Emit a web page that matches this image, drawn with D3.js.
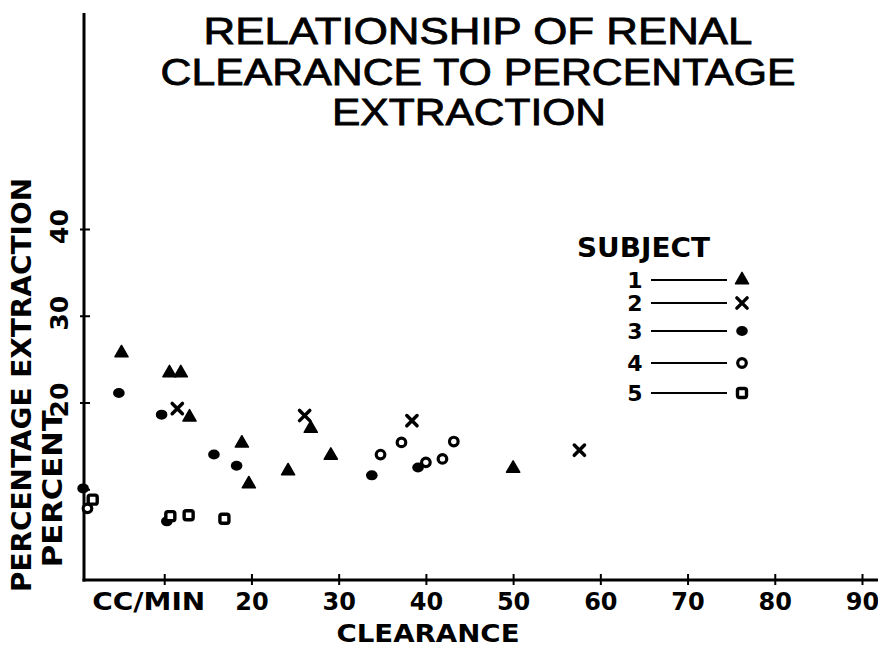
<!DOCTYPE html>
<html lang="en">
<head>
<meta charset="utf-8">
<title>Renal clearance</title>
<style>
  body { margin: 0; background: #fff; }
  svg { display: block; }
  .lbl { font-family: "DejaVu Sans", sans-serif; font-weight: bold; fill: #000; }
  .title { font-family: "Liberation Sans", sans-serif; font-size: 37px; fill: #000; stroke: #000; stroke-width: 0.8px; }
</style>
</head>
<body>
<div id="chart"></div>
<script src="https://cdn.jsdelivr.net/npm/d3@7"></script>
<script>
// values: [clearance cc/min, percentage extraction]
var subjects = ["1", "2", "3", "4", "5"];
var subject1 = [[5.1, 25.7], [10.6, 23.4], [11.9, 23.4], [12.9, 18.3], [18.9, 15.3], [19.7, 10.6],
                [24.2, 12.1], [26.8, 17.0], [29.1, 13.9], [50.0, 12.4]];
var subject2 = [[11.5, 19.3], [26.1, 18.5], [38.4, 17.9], [57.6, 14.5]];
var subject3 = [[0.7, 10.1], [4.8, 21.1], [9.7, 18.6], [10.3, 6.3], [15.7, 14.0], [18.3, 12.7],
                [33.8, 11.6], [39.1, 12.5]];
var subject4 = [[1.2, 7.8], [34.8, 14.0], [37.2, 15.4], [40.0, 13.1], [41.9, 13.5], [43.2, 15.5]];
var subject5 = [[1.8, 8.8], [10.7, 6.9], [12.8, 7.0], [16.9, 6.6]];
var xTicks = [10, 20, 30, 40, 50, 60, 70, 80, 90];
var yTicks = [10, 20, 30, 40];
var titleLines = ["RELATIONSHIP OF RENAL", "CLEARANCE TO PERCENTAGE", "EXTRACTION"];

var width = 878, height = 648;
var svg = d3.select("#chart").append("svg")
    .attr("width", width).attr("height", height);
svg.append("rect").attr("width", width).attr("height", height).attr("fill", "#fff");

var x = d3.scaleLinear().domain([0, 90]).range([77, 862]);
var y = d3.scaleLinear().domain([0, 40]).range([576, 229]);
var axisX = 84, axisY = 580;

// title
var titleGeom = [{cx: 478, base: 44, len: 549}, {cx: 478, base: 85, len: 635}, {cx: 469, base: 125, len: 274}];
svg.selectAll(".title").data(titleLines).enter().append("text")
    .attr("class", "title")
    .attr("x", function(d, i) { return titleGeom[i].cx; })
    .attr("y", function(d, i) { return titleGeom[i].base; })
    .attr("text-anchor", "middle")
    .attr("textLength", function(d, i) { return titleGeom[i].len; })
    .attr("lengthAdjust", "spacingAndGlyphs")
    .text(function(d) { return d; });

// axes lines
svg.append("line").attr("x1", axisX).attr("x2", axisX).attr("y1", 13).attr("y2", axisY + 1.5)
    .attr("stroke", "#000").attr("stroke-width", 3);
svg.append("line").attr("x1", axisX - 1.5).attr("x2", width).attr("y1", axisY).attr("y2", axisY)
    .attr("stroke", "#000").attr("stroke-width", 3);

// x axis ticks
var gx = svg.append("g").attr("transform", "translate(0," + axisY + ")")
    .call(d3.axisBottom(x).tickValues(xTicks).tickSize(5)
      .tickFormat(function(d) { return d === 10 ? "CC/MIN" : d; }));
gx.select(".domain").remove();
gx.selectAll(".tick line").attr("y1", -6).attr("stroke-width", 2);
gx.selectAll(".tick text")
    .attr("class", "lbl").attr("font-size", 24).attr("dy", null).attr("y", 30)
    .attr("x", function(d) { return d === 10 ? -16 : 0; })
    .attr("textLength", function(d) { return d === 10 ? 113 : null; })
    .attr("lengthAdjust", "spacingAndGlyphs");

// y axis ticks
var gy = svg.append("g").attr("transform", "translate(" + axisX + ",0)")
    .call(d3.axisLeft(y).tickValues(yTicks).tickSize(4)
      .tickFormat(function(d) { return d === 10 ? "PERCENT" : d; }));
gy.select(".domain").remove();
gy.selectAll(".tick line").attr("x2", 6).attr("x1", -4).attr("stroke-width", 2);
gy.selectAll(".tick text")
    .attr("class", "lbl").attr("x", null).attr("dy", null)
    .attr("text-anchor", "middle")
    .attr("font-size", function(d) { return d === 10 ? 27 : 25; })
    .attr("transform", function(d) { return d === 10 ? "translate(-22,-1) rotate(-90)" : "translate(-16,-3) rotate(-90)"; })
    .attr("textLength", function(d) { return d === 10 ? 157 : null; })
    .attr("lengthAdjust", "spacingAndGlyphs");

// axis titles
svg.append("text").attr("class", "lbl").attr("font-size", 24)
    .attr("x", 428).attr("y", 642).attr("text-anchor", "middle")
    .attr("textLength", 183).attr("lengthAdjust", "spacingAndGlyphs")
    .text("CLEARANCE");
svg.append("text").attr("class", "lbl").attr("font-size", 27)
    .attr("transform", "translate(31,385) rotate(-90)").attr("text-anchor", "middle")
    .attr("textLength", 414).attr("lengthAdjust", "spacingAndGlyphs")
    .text("PERCENTAGE EXTRACTION");

// markers
var markers = {
  "1": function(g) { g.append("path").attr("d", d3.symbol(d3.symbolTriangle, 75)()).attr("fill", "#000")
          .attr("stroke", "#000").attr("stroke-width", 1.5).attr("stroke-linejoin", "round"); },
  "2": function(g) { g.append("path").attr("d", d3.symbol(d3.symbolX, 70)()).attr("fill", "none")
          .attr("stroke", "#000").attr("stroke-width", 3.5).attr("stroke-linecap", "round"); },
  "3": function(g) { g.append("ellipse").attr("rx", 5.8).attr("ry", 5).attr("fill", "#000"); },
  "4": function(g) { g.append("circle").attr("r", 4.3).attr("fill", "#fff")
          .attr("stroke", "#000").attr("stroke-width", 3.2); },
  "5": function(g) { g.append("rect").attr("x", -4.5).attr("y", -4.5).attr("width", 9).attr("height", 9)
          .attr("rx", 2).attr("fill", "#fff").attr("stroke", "#000").attr("stroke-width", 3.4); }
};
var series = [subject1, subject2, subject3, subject4, subject5];

series.forEach(function(pts, i) {
  svg.append("g").selectAll("g").data(pts).enter().append("g")
      .attr("transform", function(d) { return "translate(" + x(d[0]) + "," + y(d[1]) + ")"; })
      .each(function() { markers[subjects[i]](d3.select(this)); });
});

// legend
var leg = svg.append("g");
leg.append("text").attr("class", "lbl").attr("font-size", 26)
    .attr("x", 577).attr("y", 257).attr("textLength", 133).attr("lengthAdjust", "spacingAndGlyphs")
    .text("SUBJECT");
var rowY = [280, 303, 331, 363, 393];
var rows = leg.selectAll(".row").data(subjects).enter().append("g")
    .attr("transform", function(d, i) { return "translate(0," + rowY[i] + ")"; });
rows.append("text").attr("class", "lbl").attr("font-size", 22)
    .attr("x", 635).attr("y", 8).attr("text-anchor", "middle")
    .text(function(d) { return d; });
rows.append("line").attr("x1", 651).attr("x2", 727).attr("stroke", "#000").attr("stroke-width", 2);
rows.append("g").attr("transform", "translate(742,0)")
    .each(function(d) { markers[d](d3.select(this)); });
</script>
</body>
</html>
